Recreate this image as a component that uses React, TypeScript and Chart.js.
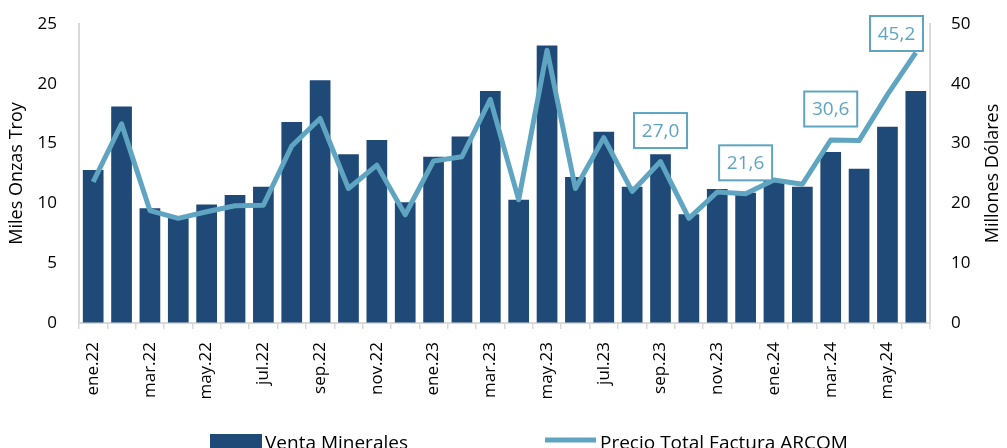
import React, { useEffect, useRef } from "react";
import { Chart, registerables } from "chart.js";

Chart.register(...registerables);

const months = [
  "ene.22", "feb.22", "mar.22", "abr.22", "may.22", "jun.22", "jul.22", "ago.22", "sep.22", "oct.22", "nov.22", "dic.22",
  "ene.23", "feb.23", "mar.23", "abr.23", "may.23", "jun.23", "jul.23", "ago.23", "sep.23", "oct.23", "nov.23", "dic.23",
  "ene.24", "feb.24", "mar.24", "abr.24", "may.24", "jun.24",
];

const ventaMinerales = [
  12.8, 18.1, 9.6, 8.8, 9.9, 10.7, 11.4, 16.8, 20.3, 14.1, 15.3, 10.1,
  13.9, 15.6, 19.4, 10.3, 23.2, 12.2, 16.0, 11.4, 14.1, 9.1, 11.2, 10.9,
  12.0, 11.4, 14.3, 12.9, 16.4, 19.4,
];

const precioTotal = [
  23.6, 33.3, 18.8, 17.5, 18.6, 19.6, 19.7, 29.6, 34.2, 22.5, 26.4, 18.1,
  27.1, 27.8, 37.4, 20.6, 45.6, 22.5, 31.0, 22.0, 27.0, 17.5, 21.9, 21.6,
  23.9, 23.2, 30.6, 30.5, 38.2, 45.2,
];

const labeledPoints = ["sep.23", "dic.23", "mar.24", "jun.24"];

const leftTitle = "Miles Onzas Troy";
const rightTitle = "Millones Dólares";

const BAR_COLOR = "#1F4A78";
const LINE_COLOR = "#5FA5C1";
const AXIS_COLOR = "#D9D9D9";
const FONT = "'Open Sans', sans-serif";

const labelBoxPlugin = {
  id: "labelBoxes",
  afterDatasetsDraw(chart: any) {
    const ctx = chart.ctx;
    const meta = chart.getDatasetMeta(1);
    const area = chart.chartArea;
    ctx.save();
    ctx.font = `19px ${FONT}`;
    labeledPoints.forEach((m) => {
      const i = months.indexOf(m);
      const pt = meta.data[i];
      if (!pt) return;
      const text = precioTotal[i].toFixed(1).replace(".", ",");
      const w = 53;
      const h = 35;
      let cx = pt.x;
      let cy = pt.y - 31;
      if (cx + w / 2 > area.right - 7) cx = area.right - 7 - w / 2;
      if (cy - h / 2 < area.top - 8) cy = area.top - 8 + h / 2;
      ctx.fillStyle = "#FFFFFF";
      ctx.fillRect(cx - w / 2, cy - h / 2, w, h);
      ctx.strokeStyle = LINE_COLOR;
      ctx.lineWidth = 2;
      ctx.strokeRect(cx - w / 2, cy - h / 2, w, h);
      ctx.fillStyle = LINE_COLOR;
      ctx.textAlign = "center";
      ctx.textBaseline = "middle";
      ctx.fillText(text, cx, cy + 1);
    });
    ctx.restore();
  },
};

const legendPlugin = {
  id: "customLegend",
  afterDraw(chart: any) {
    const ctx = chart.ctx;
    const area = chart.chartArea;
    ctx.save();
    ctx.font = `18px ${FONT}`;
    ctx.fillStyle = "#000000";
    ctx.textAlign = "center";
    ctx.textBaseline = "middle";
    ctx.translate(chart.width - 14, (area.top + area.bottom) / 2);
    ctx.rotate(-Math.PI / 2);
    ctx.fillText(rightTitle, 0, 0);
    ctx.restore();

    ctx.save();
    ctx.font = `19px ${FONT}`;
    ctx.textAlign = "left";
    ctx.textBaseline = "alphabetic";
    ctx.fillStyle = BAR_COLOR;
    ctx.fillRect(210, 434, 52, 16);
    ctx.fillStyle = "#000000";
    ctx.fillText(chart.data.datasets[0].label, 265, 449);
    ctx.strokeStyle = LINE_COLOR;
    ctx.lineWidth = 5;
    ctx.beginPath();
    ctx.moveTo(545, 440);
    ctx.lineTo(596, 440);
    ctx.stroke();
    ctx.fillStyle = "#000000";
    ctx.fillText(chart.data.datasets[1].label, 600, 449);
    ctx.restore();
  },
};

export default function App() {
  const canvasRef = useRef<HTMLCanvasElement | null>(null);

  useEffect(() => {
    if (!canvasRef.current) return;
    const chart = new Chart(canvasRef.current, {
      type: "bar",
      data: {
        labels: months,
        datasets: [
          {
            type: "bar",
            label: "Venta Minerales",
            data: ventaMinerales,
            backgroundColor: BAR_COLOR,
            yAxisID: "y",
            categoryPercentage: 1,
            barPercentage: 0.73,
            order: 1,
          },
          {
            type: "line",
            label: "Precio Total Factura ARCOM",
            data: precioTotal,
            borderColor: LINE_COLOR,
            backgroundColor: LINE_COLOR,
            borderWidth: 5,
            pointRadius: 0,
            tension: 0,
            borderJoinStyle: "round",
            yAxisID: "y1",
            order: 0,
          } as any,
        ],
      },
      options: {
        animation: false,
        responsive: true,
        maintainAspectRatio: false,
        layout: { padding: { top: 24, bottom: 45, left: 0, right: 0 } },
        plugins: {
          legend: { display: false },
          tooltip: { enabled: false },
        },
        scales: {
          x: {
            offset: true,
            grid: {
              offset: true,
              drawOnChartArea: false,
              drawTicks: true,
              tickLength: 6,
              color: AXIS_COLOR,
              lineWidth: 1.5,
            },
            border: { color: AXIS_COLOR, width: 2 },
            ticks: {
              autoSkip: false,
              maxRotation: 90,
              minRotation: 90,
              padding: 13,
              color: "#000000",
              font: { family: FONT, size: 17 },
              callback: (_v: any, i: number) => (i % 2 === 0 ? months[i] : ""),
            },
            afterFit: (s: any) => {
              s.height = 80;
              s.paddingLeft = 0;
              s.paddingRight = 0;
              s.paddingTop = 0;
              s.paddingBottom = 0;
            },
          },
          y: {
            position: "left",
            min: 0,
            max: 25,
            ticks: {
              stepSize: 5,
              padding: 22,
              color: "#000000",
              font: { family: FONT, size: 17 },
            },
            grid: { display: true, drawOnChartArea: false, drawTicks: false },
            border: { color: AXIS_COLOR, width: 2 },
            title: {
              display: true,
              text: leftTitle,
              color: "#000000",
              font: { family: FONT, size: 18 },
              padding: { top: 6, bottom: 0 },
            },
            afterFit: (s: any) => {
              s.width = 79;
              s.paddingTop = 0;
              s.paddingBottom = 0;
            },
          },
          y1: {
            position: "right",
            min: 0,
            max: 50,
            ticks: {
              stepSize: 10,
              padding: 21,
              color: "#000000",
              font: { family: FONT, size: 17 },
            },
            grid: { display: true, drawOnChartArea: false, drawTicks: false },
            border: { color: AXIS_COLOR, width: 2 },
            title: { display: false },
            afterFit: (s: any) => {
              s.width = 77;
              s.paddingTop = 0;
              s.paddingBottom = 0;
            },
          },
        },
      },
      plugins: [labelBoxPlugin, legendPlugin],
    });
    return () => chart.destroy();
  }, []);

  return (
    <div style={{ position: "fixed", left: 0, top: 0, width: 1007, height: 448, background: "#FFFFFF" }}>
      <canvas ref={canvasRef} />
    </div>
  );
}
